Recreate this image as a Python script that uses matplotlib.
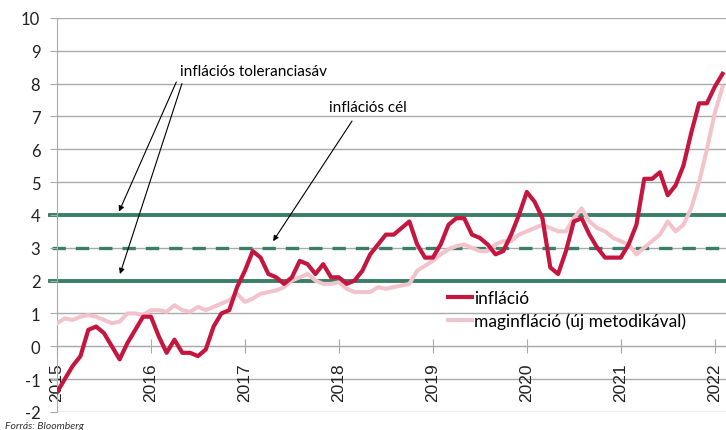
import numpy as np
import matplotlib.pyplot as plt

# havi adatok, 2015 január - 2022 február
inflacio = [
    -1.4, -1.0, -0.6, -0.3, 0.5, 0.6, 0.4, 0.0, -0.4, 0.1, 0.5, 0.9,
    0.9, 0.3, -0.2, 0.2, -0.2, -0.2, -0.3, -0.1, 0.6, 1.0, 1.1, 1.8,
    2.3, 2.9, 2.7, 2.2, 2.1, 1.9, 2.1, 2.6, 2.5, 2.2, 2.5, 2.1,
    2.1, 1.9, 2.0, 2.3, 2.8, 3.1, 3.4, 3.4, 3.6, 3.8, 3.1, 2.7,
    2.7, 3.1, 3.7, 3.9, 3.9, 3.4, 3.3, 3.1, 2.8, 2.9, 3.4, 4.0,
    4.7, 4.4, 3.9, 2.4, 2.2, 2.9, 3.8, 3.9, 3.4, 3.0, 2.7, 2.7,
    2.7, 3.1, 3.7, 5.1, 5.1, 5.3, 4.6, 4.9, 5.5, 6.5, 7.4, 7.4,
    7.9, 8.3,
]
maginflacio = [
    0.7, 0.85, 0.8, 0.9, 0.95, 0.9, 0.8, 0.7, 0.75, 1.0, 1.0, 0.95,
    1.1, 1.1, 1.05, 1.25, 1.1, 1.05, 1.2, 1.1, 1.2, 1.3, 1.4, 1.6,
    1.35, 1.45, 1.6, 1.65, 1.7, 1.8, 2.0, 2.1, 2.2, 2.0, 1.9, 1.9,
    1.95, 1.75, 1.65, 1.65, 1.65, 1.8, 1.75, 1.8, 1.85, 1.9, 2.3, 2.45,
    2.6, 2.8, 2.95, 3.05, 3.1, 3.0, 2.9, 2.9, 3.1, 3.2, 3.2, 3.4,
    3.5, 3.6, 3.7, 3.6, 3.5, 3.5, 3.9, 4.2, 3.8, 3.6, 3.5, 3.3,
    3.2, 3.1, 2.8, 3.0, 3.2, 3.4, 3.8, 3.5, 3.7, 4.2, 5.0, 6.0,
    7.1, 7.9,
]
evek = list(range(2015, 2023))
y_ertekek = list(range(-2, 11))
tolerancia = [2, 4]
cel = 3

honapok = 2015 + np.arange(len(inflacio)) / 12

piros = '#c4163f'
rozsa = '#f3c3cb'
zold = '#3b7d66'
szurke = '#aaaaaa'

fig = plt.figure(figsize=(7.26, 4.31), dpi=100)
ax = fig.add_axes([0.0785, 0.042, 0.9215, 0.914])

# rácsvonalak
for y in y_ertekek:
    ax.axhline(y, color=szurke, lw=1, zorder=0.5)

# toleranciasáv és cél
for y in tolerancia:
    ax.axhline(y, xmin=-0.011, color=zold, lw=2.8, clip_on=False, zorder=1)
ax.axhline(cel, xmin=-0.007, color=zold, lw=2.4, ls=(0, (4, 3)), clip_on=False, zorder=1)

ax.plot(honapok, maginflacio, color=rozsa, lw=2.9, zorder=3,
        label='maginfláció (új metodikával)')
ax.plot(honapok, inflacio, color=piros, lw=3.0, zorder=4, label='infláció')

ax.set_xlim(2015, 2022.12)
ax.set_ylim(-2, 10)

# tengelyek
ax.spines['top'].set_visible(False)
ax.spines['right'].set_visible(False)
ax.spines['left'].set_color(szurke)
ax.spines['bottom'].set_color(szurke)
ax.spines['bottom'].set_position(('data', 0))

ax.set_yticks(y_ertekek)
ax.set_yticklabels([str(v) for v in y_ertekek], fontsize=12, family='Lato', color='#222222')
ax.tick_params(axis='y', length=5, color=szurke, pad=7)

ax.set_xticks(evek)
ax.set_xticklabels([str(v) for v in evek], rotation=90, fontsize=12.5,
                   family='Liberation Sans', color='#222222')
ax.tick_params(axis='x', direction='inout', length=10, color=szurke, pad=6.5)

# feliratok
ax.text(2016.31, 8.38, 'inflációs toleranciasáv', fontsize=11, family='Lato', va='center')
ax.text(2017.90, 7.29, 'inflációs cél', fontsize=11, family='Lato', va='center')
nyil = dict(arrowstyle='-|>', color='black', lw=0.8, mutation_scale=8, shrinkA=0, shrinkB=0)
ax.annotate('', xy=(2015.66, 4.1), xytext=(2016.27, 8.05), arrowprops=nyil)
ax.annotate('', xy=(2015.67, 2.2), xytext=(2016.33, 8.0), arrowprops=nyil)
ax.annotate('', xy=(2017.30, 3.2), xytext=(2018.14, 6.86), arrowprops=nyil)

handles, labels = ax.get_legend_handles_labels()
ax.legend(handles[::-1], labels[::-1], loc='upper left', bbox_to_anchor=(0.584, 0.31),
          frameon=False, prop={'family': 'Lato', 'size': 12.5}, handlelength=1.4,
          handletextpad=0.1, labelspacing=0.4, borderpad=0, borderaxespad=0)

fig.text(0.007, 0.001, 'Forrás: Bloomberg', fontsize=7.5, style='italic',
         family='Lato', color='#333333', va='bottom')

fig.savefig('out.png', dpi=100)
